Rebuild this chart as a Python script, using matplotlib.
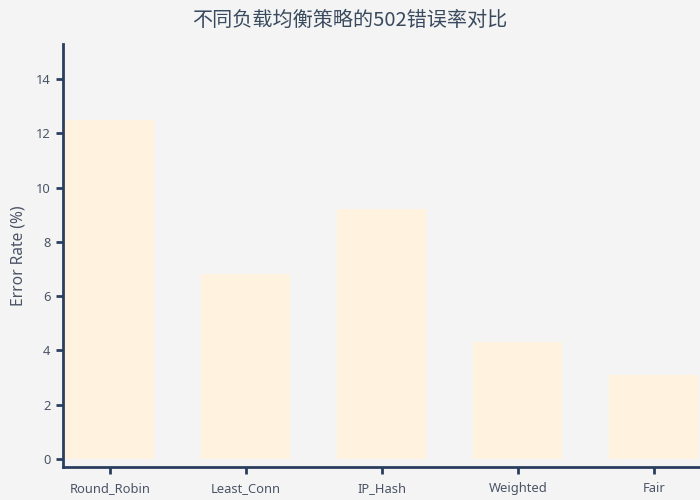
import matplotlib
matplotlib.use("Agg")
import matplotlib.pyplot as plt

categories = ["Round_Robin", "Least_Conn", "IP_Hash", "Weighted", "Fair"]
error_rates = [12.5, 6.8, 9.2, 4.3, 3.1]
y_ticks = [0, 2, 4, 6, 8, 10, 12, 14]

plt.rcParams['font.family'] = ['Noto Sans', 'Noto Sans CJK SC', 'DejaVu Sans']

bg = "#f4f4f4"
bar_color = "#fff3df"
dark = "#2a3f5f"
text_color = "#4a5466"

fig = plt.figure(figsize=(7, 5), dpi=100, facecolor=bg)
ax = fig.add_axes([63/700, 1-467/500, 637/700, 423/500])
ax.set_facecolor(bg)

x = list(range(len(categories)))
ax.bar(x, error_rates, width=0.655, color=bar_color, zorder=2)

ax.set_xlim(-0.345, 4.34)
ax.set_ylim(-0.3, 15.3)
ax.set_xticks(x)
ax.set_xticklabels(categories)
ax.set_yticks(y_ticks)

for s in ["top", "right"]:
    ax.spines[s].set_visible(False)
for s in ["left", "bottom"]:
    ax.spines[s].set_color(dark)
    ax.spines[s].set_linewidth(2)

ax.tick_params(axis="both", colors=dark, width=2, length=5, labelsize=9.3, labelcolor=text_color, pad=4)
ax.tick_params(axis="x", pad=6)
ax.set_ylabel("Error Rate (%)", fontsize=11.2, color=text_color, labelpad=7)

fig.text(0.5, 1-20/500, "不同负载均衡策略的502错误率对比", ha="center", va="center",
         fontsize=14.5, color="#3a4a5e", family=['Noto Sans CJK SC', 'DejaVu Sans'])

fig.savefig("out.png", dpi=100, facecolor=bg)
